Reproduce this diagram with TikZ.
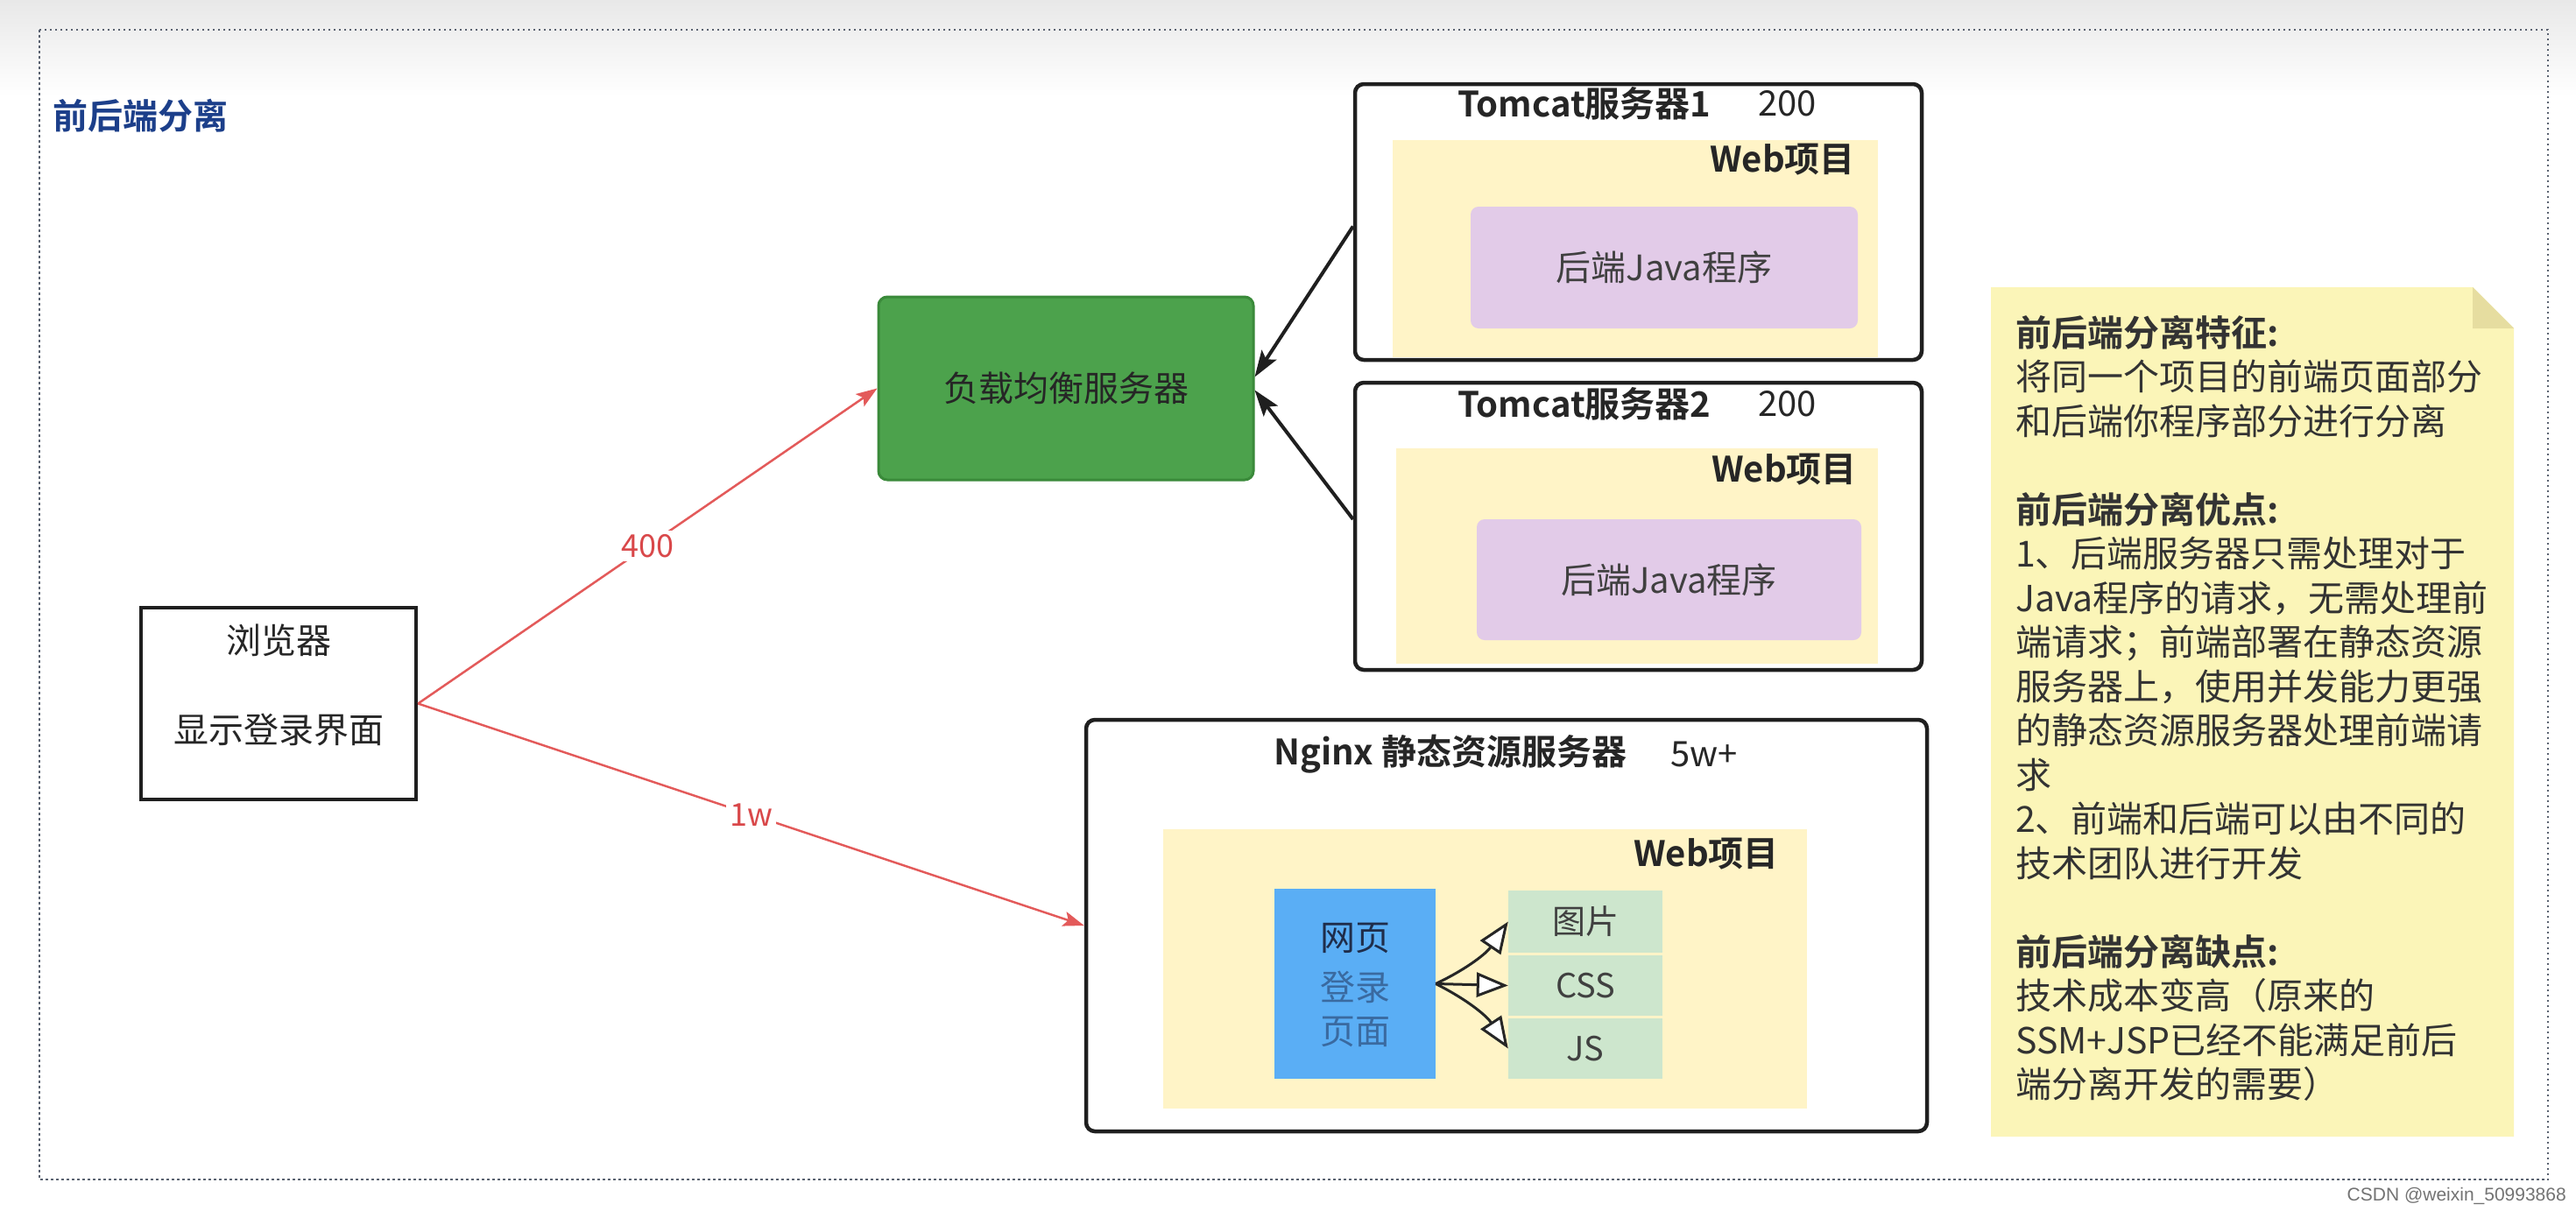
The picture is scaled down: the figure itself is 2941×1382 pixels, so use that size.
\documentclass[tikz,border=0pt]{standalone}
\usepackage{fontspec}
\setmainfont{Noto Sans CJK SC}[BoldFont={Noto Sans CJK SC Bold}]
\newfontfamily\wmfont{Liberation Sans}
\usetikzlibrary{arrows.meta,calc}
\definecolor{titleblue}{HTML}{1C3F8A}
\definecolor{yellowbg}{HTML}{FFF4C7}
\definecolor{purplebg}{HTML}{E2CBE8}
\definecolor{lbgreen}{HTML}{4CA24C}
\definecolor{lbborder}{HTML}{3A8A3A}
\definecolor{bluebg}{HTML}{5AAEF5}
\definecolor{cellgreen}{HTML}{CDE6CD}
\definecolor{notebg}{HTML}{FBF5B8}
\definecolor{notefold}{HTML}{E6DDA0}
\definecolor{redline}{HTML}{E35A5A}
\definecolor{redtext}{HTML}{D9484A}
\definecolor{framegray}{HTML}{5A6270}
\definecolor{webdark}{HTML}{1F2D4A}
\definecolor{webmid}{HTML}{3A6AA0}
\tikzset{
  fz/.style={font=\fontsize{#1}{#1}\selectfont},
  fzb/.style={font=\fontsize{#1}{#1}\selectfont\bfseries},
  srvbox/.style={draw=black!88, line width=4.5pt, rounded corners=10pt, inner sep=0pt},
  plainbox/.style={draw=black!88, line width=4.5pt, inner sep=0pt},
  webarea/.style={fill=yellowbg, inner sep=0pt, anchor=north west},
  purplebox/.style={fill=purplebg, rounded corners=9pt, inner sep=0pt, text=black!75, fz=40},
  cellbox/.style={fill=cellgreen, inner sep=0pt, minimum width=176pt, text=black!75, fz=38},
  txt/.style={inner sep=0pt, text=black!85},
  redarrow/.style={draw=redline, line width=2.5pt, -{Stealth[length=24pt,width=17pt,inset=5pt]}},
  blackarrow/.style={draw=black!88, line width=4pt, -{Stealth[length=30pt,width=20pt,inset=6pt]}},
  openarrow/.style={draw=black!85, line width=3pt, -{Triangle[length=36pt,width=28pt,fill=white]}},
  redlabel/.style={fill=white, text=redtext, fz=36, inner sep=4pt},
}
\begin{document}
\begin{tikzpicture}[x=1pt,y=-1pt]
\useasboundingbox (0,0) rectangle (2941,1382);
\fill[white] (0,0) rectangle (2941,1382);
\shade[top color=black!9, bottom color=white] (0,0) rectangle (2941,110);
% outer dotted frame
\draw[framegray, line width=2.5pt, dash pattern=on 2.5pt off 3.5pt] (45,34) rectangle (2909,1347);
\node[anchor=west, inner sep=0pt, fzb=40, text=titleblue] (title) at (60,132) {前后端分离};

% browser
\node[plainbox, minimum width=314pt, minimum height=219pt] (br) at (318,803.5) {};
\node[txt, fz=40] (brt1) at (318,731) {浏览器};
\node[txt, fz=40] (brt2) at (318,833) {显示登录界面};

% load balancer
\node[fill=lbgreen, draw=lbborder, line width=3pt, rounded corners=10pt, minimum width=428pt, minimum height=209pt, inner sep=0pt, text=black!85, fz=40] (lb) at (1217,443.5) {负载均衡服务器};

% Tomcat 1
\node[webarea, minimum width=554pt, minimum height=248pt] (w1) at (1590,160) {};
\node[srvbox, minimum width=647pt, minimum height=315pt] (t1) at (1870.5,253.5) {};
\node[txt, anchor=west, fzb=40] (t1t) at (1664,118) {Tomcat服务器1};
\node[txt, anchor=west, fz=40] (t1n) at (2007,118) {200};
\node[txt, anchor=east, fzb=40] (w1t) at (2118,182) {Web项目};
\node[purplebox, minimum width=442pt, minimum height=139pt] (p1) at (1900,305.5) {后端Java程序};

% Tomcat 2
\node[webarea, minimum width=550pt, minimum height=246pt] (w2) at (1594,512) {};
\node[srvbox, minimum width=647pt, minimum height=328pt] (t2) at (1870.5,601) {};
\node[txt, anchor=west, fzb=40] (t2t) at (1664,461) {Tomcat服务器2};
\node[txt, anchor=west, fz=40] (t2n) at (2007,461) {200};
\node[txt, anchor=east, fzb=40] (w2t) at (2120,536) {Web项目};
\node[purplebox, minimum width=439pt, minimum height=138pt] (p2) at (1905.5,662) {后端Java程序};

% Nginx
\node[webarea, minimum width=735pt, minimum height=319pt] (w3) at (1328,947) {};
\node[srvbox, minimum width=960pt, minimum height=470pt] (ng) at (1720,1057) {};
\node[txt, anchor=west, fzb=40] (ngt) at (1454,861) {Nginx 静态资源服务器};
\node[txt, anchor=west, fz=40] (ngn) at (1907,861) {5w+};
\node[txt, anchor=east, fzb=40] (w3t) at (2031,975) {Web项目};
\node[fill=bluebg, inner sep=0pt, minimum width=184pt, minimum height=217pt] (web) at (1547,1123.5) {};
\node[txt, fz=40, text=webdark] (webt1) at (1547,1071) {网页};
\node[txt, fz=40, text=webmid] (webt2) at (1547,1127) {登录};
\node[txt, fz=40, text=webmid] (webt3) at (1547,1178) {页面};
\node[cellbox, minimum height=71pt] (c1) at (1810,1052.5) {图片};
\node[cellbox, minimum height=69pt] (c2) at (1810,1125.5) {CSS};
\node[cellbox, minimum height=69pt] (c3) at (1810,1197.5) {JS};

% connectors
\draw[blackarrow] ([yshift=-5pt]t1.west) -- ([yshift=13pt]lb.east);
\draw[blackarrow] ([yshift=8pt]t2.west) -- ([yshift=-2pt]lb.east);
\draw[redarrow] (br.east) -- node[redlabel] (l400) {400} (lb.west);
\draw[redarrow] (br.east) -- node[redlabel] (l1w) {1w} (ng.west);
\draw[openarrow] (web.east) to[bend right=15] (c1.west);
\draw[openarrow] (web.east) -- (c2.west);
\draw[openarrow] (web.east) to[bend left=15] (c3.west);

% note
\fill[notebg] (2273,328) -- (2823,328) -- (2870,375) -- (2870,1298) -- (2273,1298) -- cycle;
\fill[notefold] (2823,328) -- (2823,375) -- (2870,375) -- cycle;
\node[anchor=north west, inner sep=0pt, align=left, text=black!80, font=\fontsize{41}{50.5}\selectfont] (notet) at (2301,360) {%
\textbf{前后端分离特征:}\\
将同一个项目的前端页面部分\\
和后端你程序部分进行分离\\
~\\
\textbf{前后端分离优点:}\\
1、后端服务器只需处理对于\\
Java程序的请求，无需处理前\\
端请求；前端部署在静态资源\\
服务器上，使用并发能力更强\\
的静态资源服务器处理前端请\\
求\\
2、前端和后端可以由不同的\\
技术团队进行开发\\
~\\
\textbf{前后端分离缺点:}\\
技术成本变高（原来的\\
SSM+JSP已经不能满足前后\\
端分离开发的需要）};

\node[anchor=east, inner sep=0pt, text=black!55, font=\wmfont\fontsize{21}{21}\selectfont] (wm) at (2930,1366) {CSDN @weixin\_50993868};
\end{tikzpicture}
\end{document}
